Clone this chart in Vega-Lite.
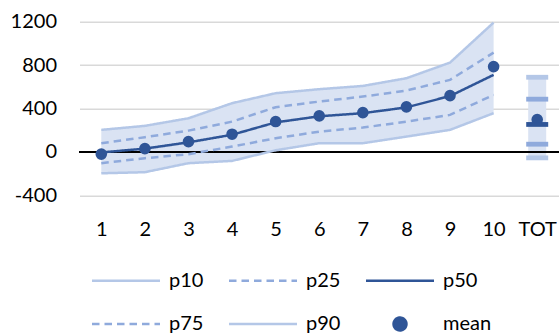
{
  "$schema": "https://vega.github.io/schema/vega-lite/v6.json",
  "autosize": "none",
  "width": 479.5,
  "height": 173.6,
  "padding": {"left": 79.5, "top": 21.7, "right": 0, "bottom": 139.7},
  "background": "white",
  "data": {
    "values": [
      {"g": "1", "p10": -197, "p25": -104, "p50": -5, "p75": 80, "p90": 203, "mean": -20},
      {"g": "2", "p10": -187, "p25": -58, "p50": 30, "p75": 135, "p90": 240, "mean": 30},
      {"g": "3", "p10": -104, "p25": -21, "p50": 88, "p75": 196, "p90": 310, "mean": 95},
      {"g": "4", "p10": -83, "p25": 49, "p50": 158, "p75": 279, "p90": 449, "mean": 163},
      {"g": "5", "p10": 15, "p25": 126, "p50": 272, "p75": 412, "p90": 541, "mean": 280},
      {"g": "6", "p10": 80, "p25": 187, "p50": 328, "p75": 464, "p90": 578, "mean": 332},
      {"g": "7", "p10": 80, "p25": 224, "p50": 357, "p75": 510, "p90": 608, "mean": 362},
      {"g": "8", "p10": 141, "p25": 279, "p50": 410, "p75": 565, "p90": 679, "mean": 415},
      {"g": "9", "p10": 203, "p25": 341, "p50": 515, "p75": 664, "p90": 823, "mean": 519},
      {"g": "10", "p10": 357, "p25": 525, "p50": 710, "p75": 915, "p90": 1192, "mean": 786},
      {"g": "TOT", "p10": -55, "p25": 71, "p50": 253, "p75": 486, "p90": 688, "mean": 298}
    ]
  },
  "encoding": {
    "x": {
      "field": "g",
      "type": "ordinal",
      "sort": ["1", "2", "3", "4", "5", "6", "7", "8", "9", "10", "TOT"],
      "scale": {"type": "point", "padding": 0.5},
      "axis": {
        "title": null,
        "labelAngle": 0,
        "domain": false,
        "ticks": false,
        "grid": false,
        "labelPadding": 24,
        "labelFont": "Lato",
        "labelFontSize": 20,
        "labelColor": "#000000"
      }
    }
  },
  "layer": [
    {
      "transform": [{"filter": "datum.g !== 'TOT'"}],
      "mark": {"type": "area", "color": "#dae3f3", "opacity": 1},
      "encoding": {
        "y": {
          "field": "p10",
          "type": "quantitative",
          "scale": {"domain": [-400, 1200], "nice": false, "zero": false},
          "axis": {
            "title": null,
            "values": [-400, 0, 400, 800, 1200],
            "labelExpr": "'' + datum.value",
            "domain": false,
            "ticks": false,
            "labelPadding": 23,
            "labelFont": "Lato",
            "labelFontSize": 20,
            "labelColor": "#000000",
            "gridColor": "#d9d9d9",
            "gridWidth": 1.6
          }
        },
        "y2": {"field": "p90"}
      }
    },
    {
      "transform": [{"filter": "datum.g === 'TOT'"}],
      "mark": {"type": "bar", "color": "#dae3f3", "size": 18},
      "encoding": {
        "y": {"field": "p10", "type": "quantitative"},
        "y2": {"field": "p90"}
      }
    },
    {
      "mark": {"type": "rule", "color": "#000000", "strokeWidth": 1.8},
      "encoding": {"y": {"datum": 0}, "x": {"value": 0}, "x2": {"value": 479.5}}
    },
    {
      "transform": [
        {"filter": "datum.g !== 'TOT'"},
        {"fold": ["p10", "p90", "p25", "p75", "p50"], "as": ["series", "value"]}
      ],
      "mark": {"type": "line", "strokeWidth": 2.5, "strokeCap": "butt"},
      "encoding": {
        "y": {"field": "value", "type": "quantitative"},
        "color": {
          "field": "series",
          "type": "nominal",
          "scale": {
            "domain": ["p10", "p25", "p50", "p75", "p90", "mean"],
            "range": ["#b4c7e7", "#8faadc", "#2f5597", "#8faadc", "#b4c7e7", "#2f5597"]
          },
          "legend": {
            "title": null,
            "orient": "none",
            "legendX": 11,
            "legendY": 240.4,
            "direction": "horizontal",
            "columns": 3,
            "padding": 0,
            "columnPadding": 20,
            "rowPadding": 14.4,
            "symbolType": "M-1,0H3",
            "symbolSize": 1156,
            "symbolStrokeWidth": 2.5,
            "symbolOffset": 0,
            "labelOffset": 41.5,
            "labelFont": "Lato",
            "labelFontSize": 20,
            "labelColor": "#000000",
            "labelLimit": 200,
            "encode": {
              "symbols": {
                "update": {
                  "shape": [
                    {"test": "datum.value === 'mean'", "value": "M0.62,0A0.38,0.38 0 1,0 1.38,0A0.38,0.38 0 1,0 0.62,0Z"},
                    {"value": "M-1,0H3"}
                  ],
                  "fill": [
                    {"test": "datum.value === 'mean'", "value": "#2f5597"},
                    {"value": "transparent"}
                  ],
                  "stroke": [
                    {"test": "datum.value === 'mean'", "value": "transparent"},
                    {"scale": "color", "field": "value"}
                  ],
                  "strokeDash": [
                    {"test": "datum.value === 'p25' || datum.value === 'p75'", "value": [7.5, 5]},
                    {"value": [1, 0]}
                  ],
                  "strokeWidth": {"value": 2.5},
                  "opacity": {"value": 1}
                }
              }
            }
          }
        },
        "strokeDash": {
          "field": "series",
          "type": "nominal",
          "scale": {
            "domain": ["p10", "p25", "p50", "p75", "p90"],
            "range": [[1, 0], [7.5, 5], [1, 0], [7.5, 5], [1, 0]]
          },
          "legend": null
        }
      }
    },
    {
      "transform": [{"fold": ["mean"], "as": ["series", "value"]}],
      "mark": {"type": "point", "filled": true, "size": 135, "opacity": 1, "shape": "circle"},
      "encoding": {
        "y": {"field": "value", "type": "quantitative"},
        "color": {"field": "series", "type": "nominal"}
      }
    },
    {
      "transform": [
        {"filter": "datum.g === 'TOT'"},
        {"fold": ["p10", "p90", "p25", "p75", "p50"], "as": ["series", "value"]}
      ],
      "mark": {"type": "tick", "size": 22, "thickness": 4.8, "opacity": 1, "orient": "horizontal"},
      "encoding": {
        "y": {"field": "value", "type": "quantitative"},
        "color": {"field": "series", "type": "nominal"}
      }
    }
  ],
  "config": {
    "view": {"stroke": null},
    "font": "Lato"
  }
}
